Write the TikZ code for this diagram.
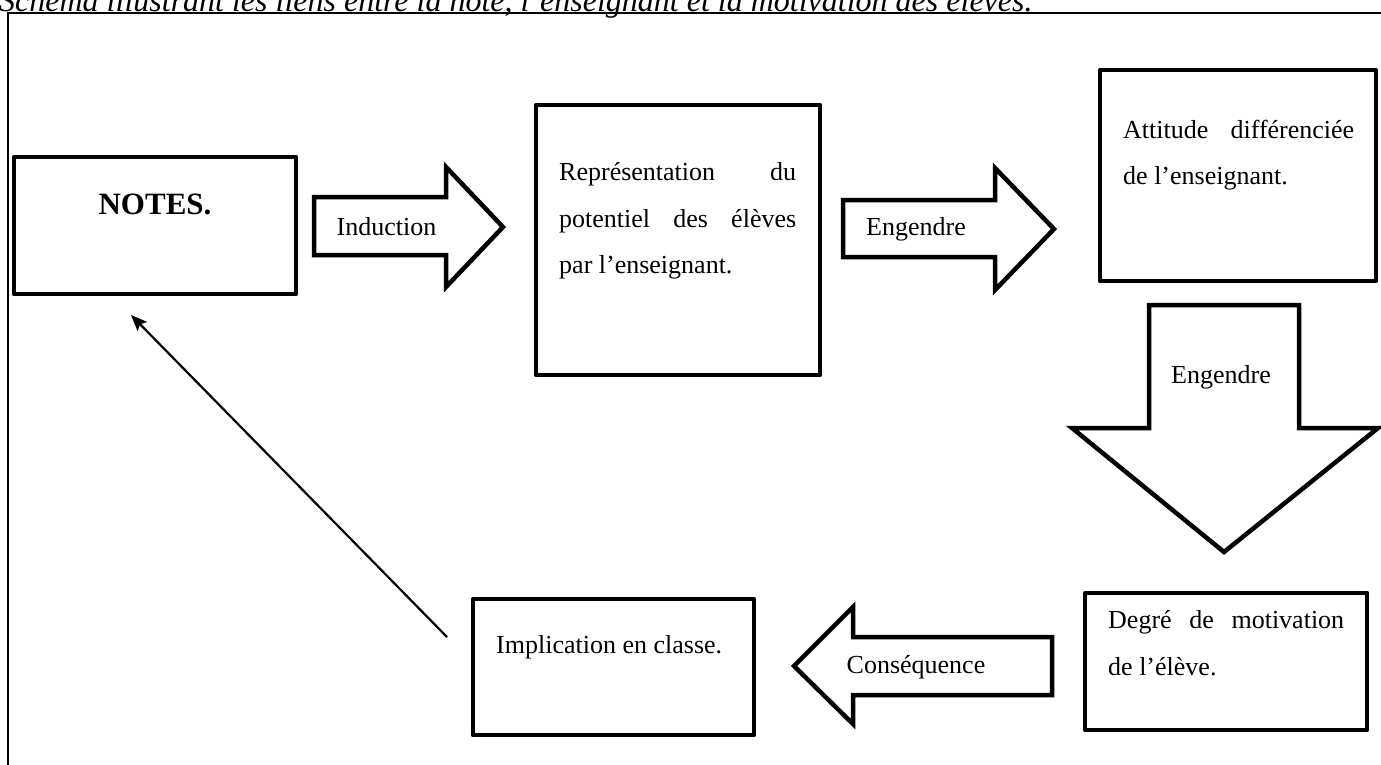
\documentclass[tikz,border=0pt]{standalone}
\usepackage{fontspec}
\setmainfont{Liberation Serif}
\usetikzlibrary{arrows.meta}
\begin{document}
\begin{tikzpicture}[x=1pt,y=-1pt,
  box/.style={draw, line width=4.5pt, line join=round, rectangle, inner sep=0pt},
  blockarrow/.style={draw, line width=4.5pt, line join=miter, fill=white},
  thinline/.style={line width=2.2pt},
  lbl/.style={inner sep=0pt, font=\fontsize{26}{26}\selectfont},
  titlefont/.style={inner sep=0pt, font=\fontsize{32}{32}\selectfont\itshape}]
\clip (0,0) rectangle (1381,764);
\fill[white] (0,0) rectangle (1381,764);

% title (cut off at the top) and frame
\node[titlefont, anchor=base west] (title) at (-1,11) {Schéma illustrant les liens entre la note, l’enseignant et la motivation des élèves.};
\coordinate (fTL) at (8,13);
\coordinate (fTR) at (1390,13);
\coordinate (fBL) at (8,775);
\draw[thinline] (fTR) -- (fTL) -- (fBL);

% boxes
\node[box, minimum width=282pt, minimum height=137pt] (notes) at (155,225.5) {};
\node[box, minimum width=284pt, minimum height=270pt] (repr) at (678,240) {};
\node[box, minimum width=276pt, minimum height=211pt] (att) at (1238,175.5) {};
\node[box, minimum width=282pt, minimum height=137pt] (deg) at (1226,661.5) {};
\node[box, minimum width=281pt, minimum height=136pt] (impl) at (613.5,667) {};

% box texts
\node[inner sep=0pt, anchor=base, font=\fontsize{31}{31}\selectfont\bfseries] (tnotes) at (155,214) {NOTES.};
\node[lbl, anchor=base west] (tr1) at (559,180) {\hbox to 237pt{Représentation\hfill du}};
\node[lbl, anchor=base west] (tr2) at (559,227) {\hbox to 237pt{potentiel\hfill des\hfill élèves}};
\node[lbl, anchor=base west] (tr3) at (559,273) {par l’enseignant.};
\node[lbl, anchor=base west] (ta1) at (1123,138) {\hbox to 231pt{Attitude\hfill différenciée}};
\node[lbl, anchor=base west] (ta2) at (1123,184) {de l’enseignant.};
\node[lbl, anchor=base west] (td1) at (1108,628) {\hbox to 236pt{Degré\hfill de\hfill motivation}};
\node[lbl, anchor=base west] (td2) at (1108,675) {de l’élève.};
\node[lbl, anchor=base west] (ti1) at (496,653) {Implication en classe.};

% block arrows
\draw[blockarrow] (314,197) -- (446,197) -- (446,167) -- (503,227) -- (446,287) -- (446,255) -- (314,255) -- cycle;
\draw[blockarrow] (843,200) -- (995,200) -- (995,168) -- (1054,229) -- (995,290) -- (995,257) -- (843,257) -- cycle;
\draw[blockarrow] (1149,305) -- (1299,305) -- (1299,428) -- (1378,428) -- (1224,552) -- (1072,428) -- (1149,428) -- cycle;
\draw[blockarrow] (1052,637) -- (853,637) -- (853,607) -- (794,666) -- (853,724) -- (853,695) -- (1052,695) -- cycle;

% arrow labels
\node[lbl, anchor=base] (lind) at (386.5,235) {Induction};
\node[lbl, anchor=base] (leng1) at (916,235) {Engendre};
\node[lbl, anchor=base] (leng2) at (1221,383) {Engendre};
\node[lbl, anchor=base] (lcons) at (916,673) {Conséquence};

% feedback arrow
\coordinate (dstart) at (447,637);
\coordinate (dend) at (131,315);
\draw[thinline, -{Stealth[length=16pt,width=13pt,inset=3pt]}] (dstart) -- (dend);
\end{tikzpicture}
\end{document}
